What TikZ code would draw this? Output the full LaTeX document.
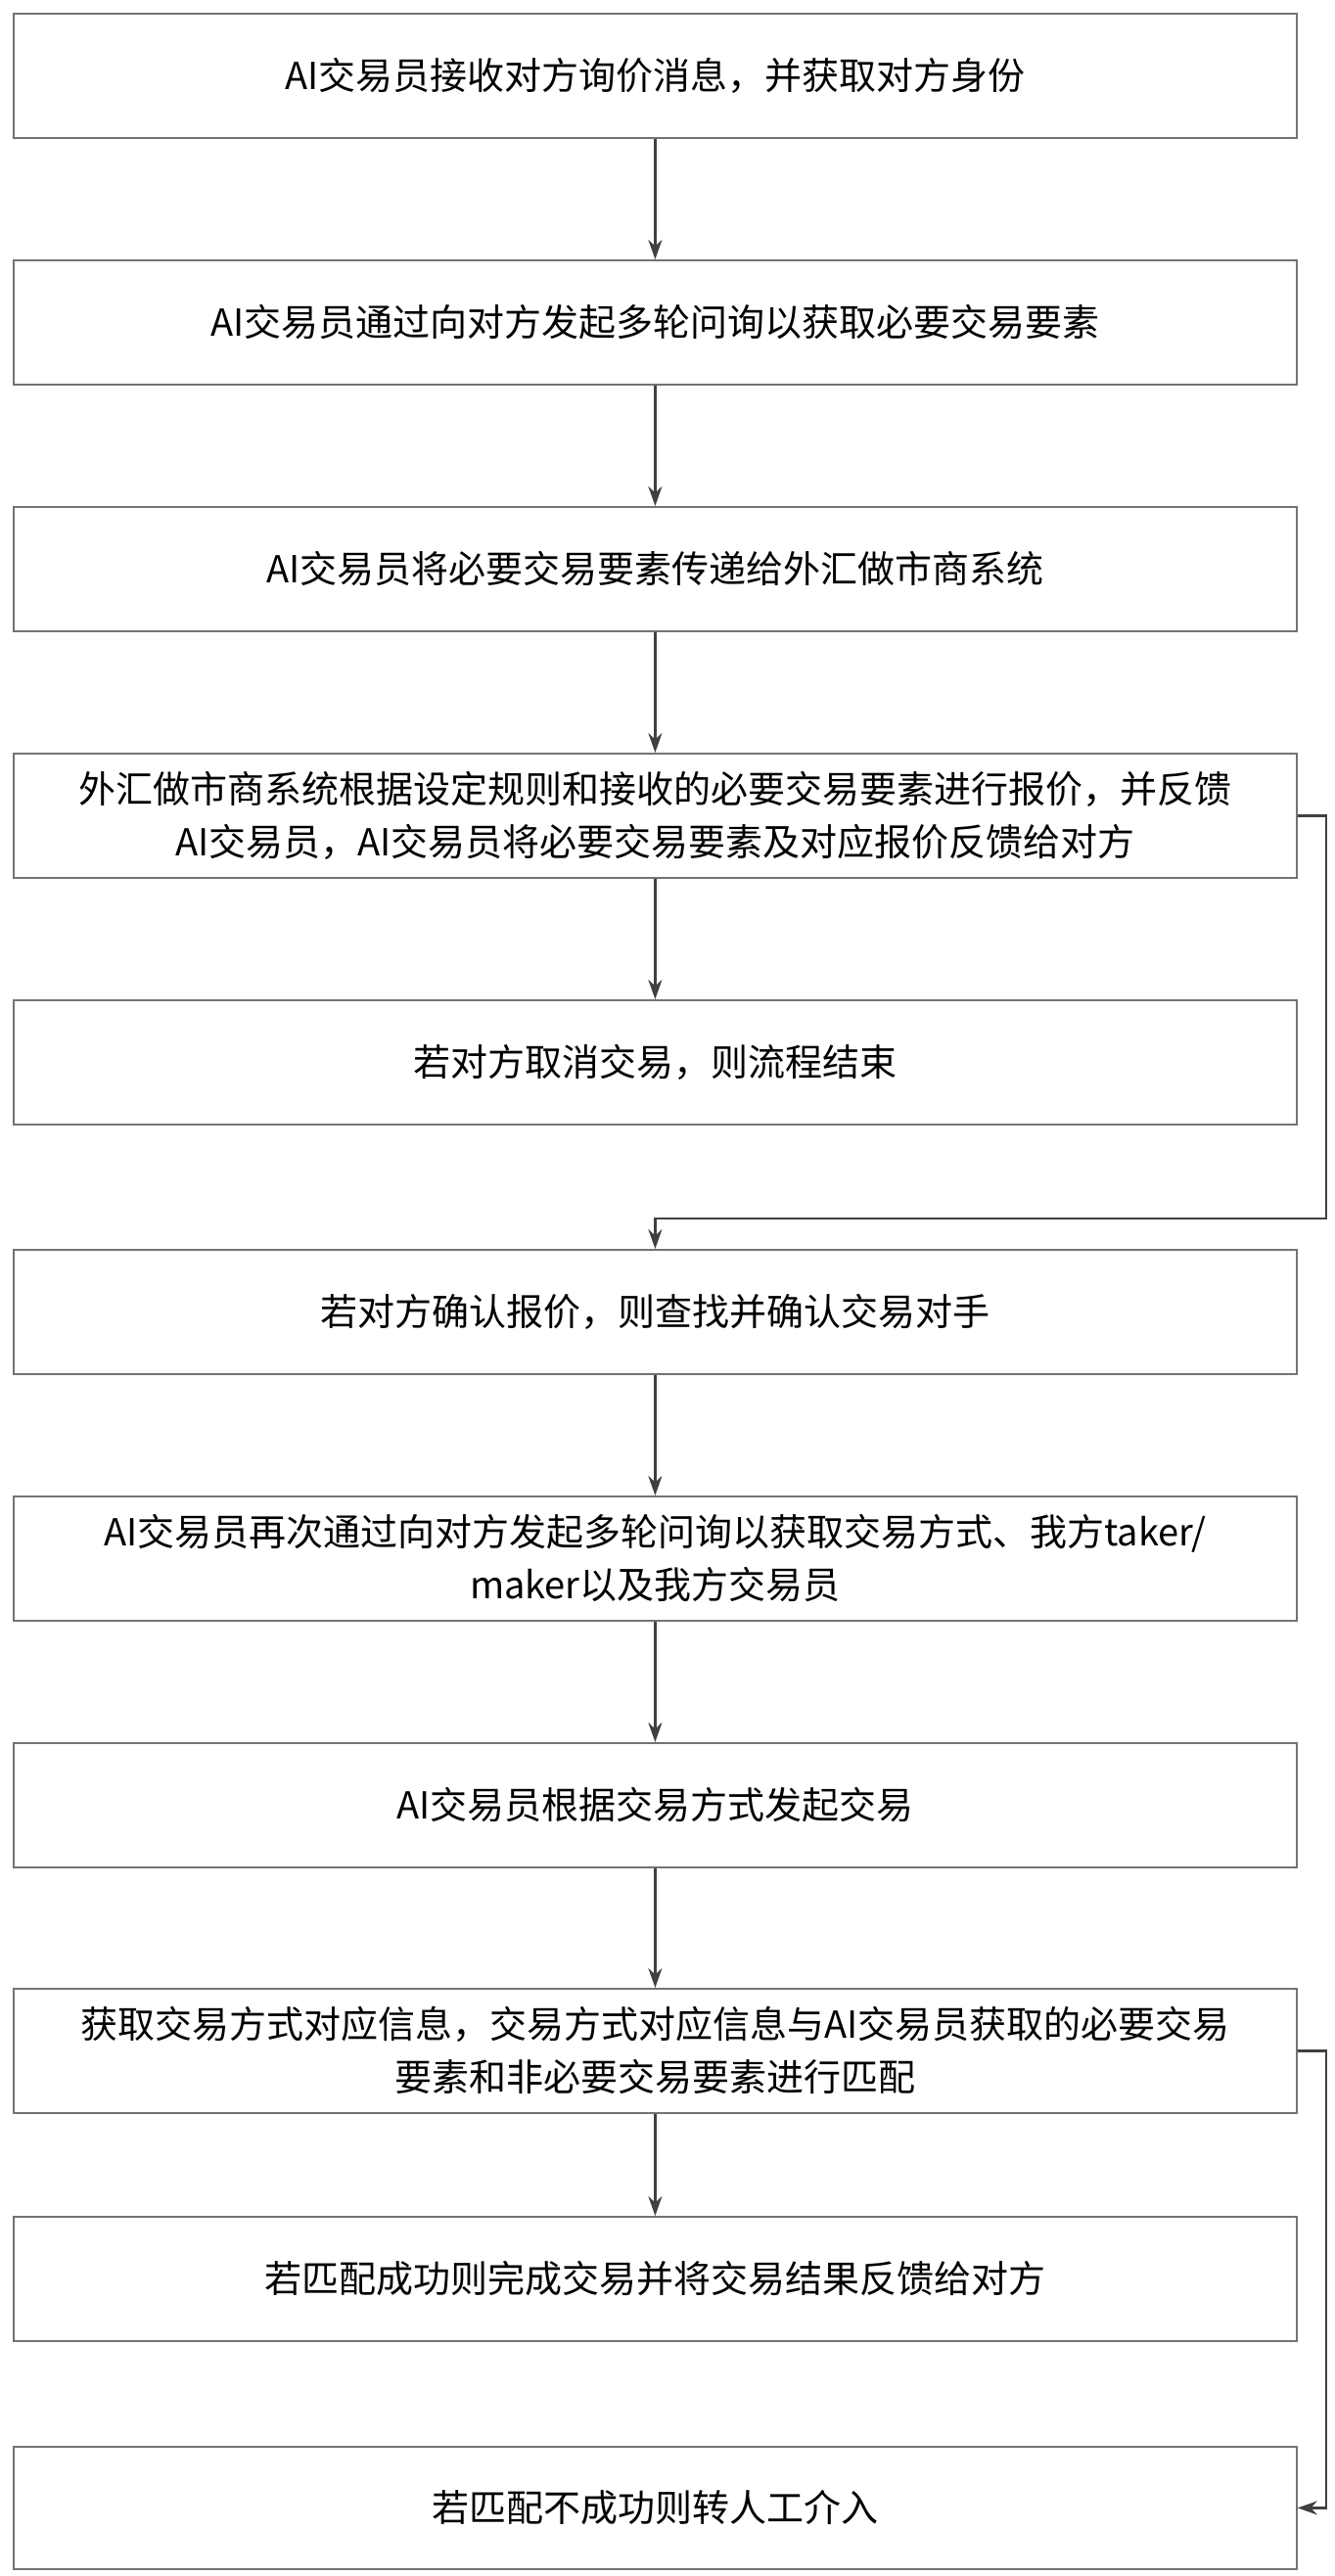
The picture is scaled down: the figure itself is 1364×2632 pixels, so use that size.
\documentclass[tikz,border=0pt]{standalone}
\usepackage{fontspec}
\newfontfamily\cjk{Noto Sans CJK SC}
\usetikzlibrary{arrows.meta}
\begin{document}
\begin{tikzpicture}[x=1pt,y=-1pt,
  box/.style={draw=black!55,line width=1.8pt,minimum width=1311pt,anchor=north west,align=center,inner sep=0pt,font=\cjk\fontsize{38}{54}\selectfont},
  conn/.style={draw=black!75,line width=2.6pt,-{Stealth[length=20pt,width=14pt]}}]
\useasboundingbox (0,0) rectangle (1364,2632);
\fill[white] (0,0) rectangle (1364,2632);
\node[box,minimum height=127pt] (b1) at (13,13) {AI交易员接收对方询价消息，并获取对方身份};
\node[box,minimum height=127pt] (b2) at (13,265) {AI交易员通过向对方发起多轮问询以获取必要交易要素};
\node[box,minimum height=127pt] (b3) at (13,517) {AI交易员将必要交易要素传递给外汇做市商系统};
\node[box,minimum height=127pt] (b4) at (13,769) {外汇做市商系统根据设定规则和接收的必要交易要素进行报价，并反馈\\AI交易员，AI交易员将必要交易要素及对应报价反馈给对方};
\node[box,minimum height=127pt] (b5) at (13,1021) {若对方取消交易，则流程结束};
\node[box,minimum height=127pt] (b6) at (13,1276) {若对方确认报价，则查找并确认交易对手};
\node[box,minimum height=127pt] (b7) at (13,1528) {AI交易员再次通过向对方发起多轮问询以获取交易方式、我方taker/\\maker以及我方交易员};
\node[box,minimum height=127pt] (b8) at (13,1780) {AI交易员根据交易方式发起交易};
\node[box,minimum height=127pt] (b9) at (13,2031) {获取交易方式对应信息，交易方式对应信息与AI交易员获取的必要交易\\要素和非必要交易要素进行匹配};
\node[box,minimum height=127pt] (b10) at (13,2264) {若匹配成功则完成交易并将交易结果反馈给对方};
\node[box,minimum height=125pt] (b11) at (13,2499) {若匹配不成功则转人工介入};
\coordinate (r) at (1355,0);
\coordinate (ry) at (0,1245);
\draw[conn] (b1) -- (b2);
\draw[conn] (b2) -- (b3);
\draw[conn] (b3) -- (b4);
\draw[conn] (b4) -- (b5);
\draw[conn] (b4.east) -- (b4.east -| r) -- (r |- ry) -- (b6.north |- ry) -- (b6.north);
\draw[conn] (b6) -- (b7);
\draw[conn] (b7) -- (b8);
\draw[conn] (b8) -- (b9);
\draw[conn] (b9) -- (b10);
\draw[conn] (b9.east) -- (b9.east -| r) -- (b11.east -| r) -- (b11.east);
\end{tikzpicture}
\end{document}
